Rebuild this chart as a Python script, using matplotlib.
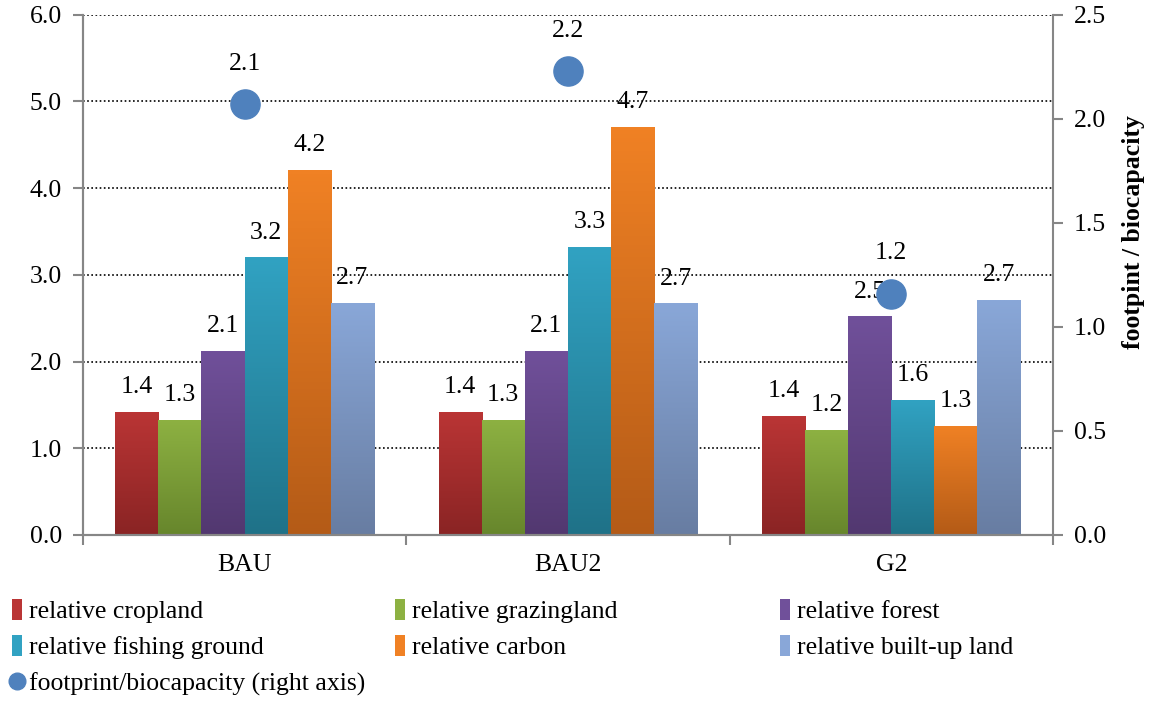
import numpy as np
import matplotlib.pyplot as plt
from matplotlib.colors import LinearSegmentedColormap
from matplotlib.patches import Patch
from matplotlib.lines import Line2D

plt.rcParams['font.family'] = ['Liberation Serif', 'DejaVu Serif']

# Dados
scenarios = ['BAU', 'BAU2', 'G2']
series = ['relative cropland', 'relative grazingland', 'relative forest',
          'relative fishing ground', 'relative carbon', 'relative built-up land']
cropland = [1.42, 1.42, 1.37]
grazing = [1.33, 1.33, 1.21]
forest = [2.12, 2.12, 2.52]
fishing = [3.20, 3.32, 1.56]
carbon = [4.21, 4.71, 1.26]
builtup = [2.68, 2.67, 2.71]
footprint = [2.07, 2.23, 1.16]   # eixo direito
values = [cropland, grazing, forest, fishing, carbon, builtup]

# cores (topo, base) do degradê
top_cols = ['#BA3535', '#8DB142', '#70509A', '#31A2C2', '#F08124', '#89A7D8']
bot_cols = ['#8A2424', '#67862C', '#523870', '#1F7288', '#B45B17', '#687DA2']
dot_col = '#4F81BD'
grey = '#868686'
fs = 18.5

fig = plt.figure(figsize=(11.52, 7.02), dpi=100)
ax = fig.add_axes([0.072, 0.238, 0.842, 0.741])
ax2 = ax.twinx()

x = np.arange(len(scenarios))
w = 0.8 / len(series)

for i, vals in enumerate(values):
    pos = x - 0.4 + w * (i + 0.5)
    bars = ax.bar(pos, vals, width=w, color=top_cols[i], linewidth=0, zorder=2)
    cmap = LinearSegmentedColormap.from_list('g%d' % i, [bot_cols[i], top_cols[i]])
    for b, v in zip(bars, vals):
        grad = np.linspace(0, 1, 100).reshape(-1, 1)
        im = ax.imshow(grad, cmap=cmap, origin='lower', aspect='auto',
                       extent=[b.get_x(), b.get_x() + w, 0, v], zorder=2.5)
        im.set_clip_path(b)
        ax.annotate('%.1f' % v, (b.get_x() + w / 2, v), xytext=(0, 10),
                    textcoords='offset points', ha='center', va='bottom', fontsize=fs)

ax.set_xlim(-0.5, len(scenarios) - 0.5)
ax.set_ylim(0, 6)

ax2.plot(x, footprint, 'o', color=dot_col, markersize=21, zorder=5)
for xi, v in zip(x, footprint):
    ax2.annotate('%.1f' % v, (xi, v), xytext=(0, 21), textcoords='offset points',
                 ha='center', va='bottom', fontsize=fs)
ax2.set_ylim(0, 2.5)
ax2.set_yticks(np.arange(0, 2.51, 0.5))
ax2.set_yticklabels(['%.1f' % t for t in np.arange(0, 2.51, 0.5)], fontsize=fs)
ax2.set_ylabel('footpint / biocapacity', fontsize=18.5, fontweight='bold')
ax2.yaxis.set_label_coords(1.071, 0.583)

ax.set_yticks(np.arange(0, 6.1, 1))
ax.set_yticklabels(['%.1f' % t for t in np.arange(0, 6.1, 1)], fontsize=fs)
ax.set_xticks(x)
ax.set_xticklabels(scenarios, fontsize=fs)
ax.set_xticks(np.arange(-0.5, len(scenarios)), minor=True)
ax.tick_params(axis='x', which='major', length=0, pad=14)
ax.tick_params(axis='x', which='minor', length=7, color=grey, width=1.5)
ax.tick_params(axis='y', length=7, color=grey, width=1.5, pad=8)
ax2.tick_params(axis='y', length=7, color=grey, width=1.5, pad=8)
ax.grid(axis='y', linestyle=(0, (1, 1.5)), color='black', linewidth=1.2)
ax.set_axisbelow(True)

for a in (ax, ax2):
    a.spines['top'].set_visible(False)
    for s in ('left', 'right', 'bottom'):
        a.spines[s].set_color(grey)
        a.spines[s].set_linewidth(1.5)
ax.spines['right'].set_visible(False)

# Legenda em três colunas
handles = [Patch(facecolor=c, edgecolor='none') for c in top_cols]
dot_h = Line2D([], [], marker='o', color=dot_col, linestyle='none', markersize=12)
cols = [([handles[0], handles[3], dot_h], [series[0], series[3], 'footprint/biocapacity (right axis)']),
        ([handles[1], handles[4]], [series[1], series[4]]),
        ([handles[2], handles[5]], [series[2], series[5]])]
xs = [12 / 1152, 395 / 1152, 780 / 1152]
for (hs, ls), xl in zip(cols, xs):
    fig.legend(hs, ls, loc='upper left', bbox_to_anchor=(xl, 0.147), frameon=False,
               fontsize=fs, handlelength=0.4, handleheight=0.9, handletextpad=0.25,
               labelspacing=0.45, borderaxespad=0, borderpad=0)

plt.savefig('out.png', dpi=100)
